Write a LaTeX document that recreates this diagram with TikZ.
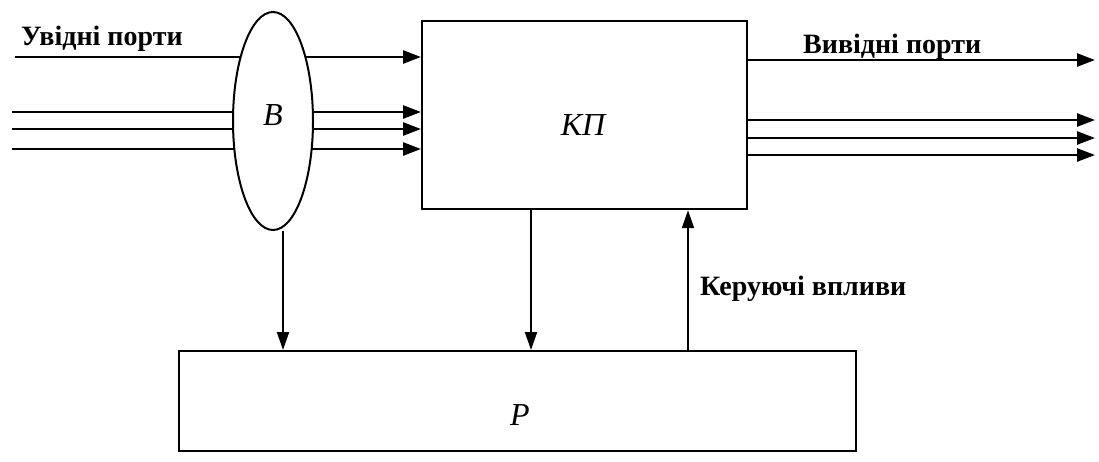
\documentclass[tikz,border=0pt]{standalone}
\usepackage{fontspec}
\setmainfont{Liberation Serif}
\usetikzlibrary{arrows.meta,shapes.geometric}
\pgfdeclarelayer{bg}
\pgfsetlayers{bg,main}
\begin{document}
\begin{tikzpicture}[x=1pt,y=1pt,
  wire/.style={line width=2.6pt},
  arr/.style={wire,-{Triangle[length=18pt,width=13pt]}},
  varr/.style={line width=2pt,-{Triangle[length=18pt,width=12pt]}},
  box/.style={draw,line width=2.2pt,rectangle,inner sep=0pt,anchor=north west},
  lbl/.style={font=\fontsize{28}{32}\selectfont\bfseries,inner sep=0pt,anchor=base west},
  sym/.style={font=\fontsize{32}{36}\selectfont\itshape,inner sep=0pt}]
\begin{pgfonlayer}{bg}
\fill[white] (0,0) rectangle (1099,-461);
\end{pgfonlayer}
\useasboundingbox (0,0) rectangle (1099,-461);
% blocks
\node[box,minimum width=325pt,minimum height=188pt] (KP) at (421,-20) {};
\node[sym] (KPl) at (583,-125) {КП};
\node[box,minimum width=677pt,minimum height=100pt] (P) at (178,-350) {};
\node[sym] (Pl) at (520,-415) {Р};
\node[draw,ellipse,line width=2pt,fill=white,minimum width=80pt,minimum height=218pt,inner sep=0pt] (B) at (273,-121) {};
\node[sym] (Bl) at (273,-115) {В};
% input coordinates
\coordinate (i1) at (15,-57);
\coordinate (i2) at (12,-112);
\coordinate (i3) at (12,-129);
\coordinate (i4) at (12,-149);
\begin{pgfonlayer}{bg}
\draw[arr] (i1) -- (i1 -| KP.west);
\draw[arr] (i2) -- (i2 -| KP.west);
\draw[arr] (i3) -- (i3 -| KP.west);
\draw[arr] (i4) -- (i4 -| KP.west);
\end{pgfonlayer}
% outputs
\coordinate (o1) at (1095,-60);
\coordinate (o2) at (1095,-120);
\coordinate (o3) at (1095,-138);
\coordinate (o4) at (1095,-155);
\draw[arr] (o1 -| KP.east) -- (o1);
\draw[arr] (o2 -| KP.east) -- (o2);
\draw[arr] (o3 -| KP.east) -- (o3);
\draw[arr] (o4 -| KP.east) -- (o4);
% vertical connectors
\coordinate (c1) at (283,0);
\coordinate (c2) at (531,0);
\coordinate (c3) at (688,0);
\draw[varr] (B.south -| c1) -- (P.north -| c1);
\draw[varr] (KP.south -| c2) -- (P.north -| c2);
\draw[varr] (P.north -| c3) -- (KP.south -| c3);
% labels
\node[lbl] (tin) at (21,-45) {Увідні порти};
\node[lbl] (tout) at (803,-53) {Вивідні порти};
\node[lbl] (tctl) at (700,-295) {Керуючі впливи};
\end{tikzpicture}
\end{document}
